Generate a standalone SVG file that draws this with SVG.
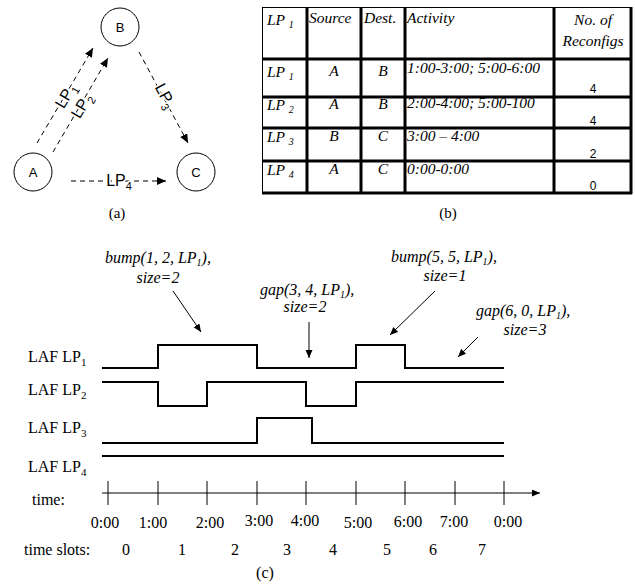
<svg xmlns="http://www.w3.org/2000/svg" width="635" height="586" viewBox="0 0 635 586">
<style>
.sans{font-family:"Liberation Sans",Arial,sans-serif;fill:#000}
.ser{font-family:"Liberation Serif","Times New Roman",serif;fill:#000}
.it{font-style:italic}
.node circle{fill:#fff;stroke:#000;stroke-width:1}
.dash{stroke:#000;stroke-width:1;stroke-dasharray:5 4;fill:none}
.sig{stroke:#000;stroke-width:2;fill:none}
.thin{stroke:#000;stroke-width:1;fill:none}
.tb{stroke:#000;stroke-width:3;fill:none}
.lbl{stroke:#fff;stroke-width:3;paint-order:stroke}
</style>
<defs>
<marker id="ah" markerUnits="userSpaceOnUse" markerWidth="10" markerHeight="8" refX="9" refY="4" orient="auto">
<path d="M0,0 L9,4 L0,8 z" fill="#000"/>
</marker>
<marker id="ah2" markerUnits="userSpaceOnUse" markerWidth="10" markerHeight="8" refX="8" refY="3.5" orient="auto">
<path d="M0,0 L8,3.5 L0,7 z" fill="#000"/>
</marker>
</defs>

<!-- (a) graph -->
<g id="connectors-a">
<line class="dash" x1="37" y1="143" x2="93" y2="48" marker-end="url(#ah)"/>
<line class="dash" x1="53" y1="152" x2="108" y2="58" marker-end="url(#ah)"/>
<line class="dash" x1="139" y1="52" x2="188" y2="143" marker-end="url(#ah)"/>
<line class="dash" x1="71" y1="181" x2="166" y2="181" marker-end="url(#ah)"/>
<text class="sans lbl" font-size="16" text-anchor="middle" transform="translate(66,96) rotate(-59.5)" y="5">LP<tspan font-size="11" dy="4">1</tspan></text>
<text class="sans lbl" font-size="16" text-anchor="middle" transform="translate(82,106) rotate(-59.5)" y="5">LP<tspan font-size="11" dy="4">2</tspan></text>
<text class="sans lbl" font-size="16" text-anchor="middle" transform="translate(165,96) rotate(61.7)" y="5">LP<tspan font-size="11" dy="4">3</tspan></text>
<text class="sans lbl" font-size="16" text-anchor="middle" x="119" y="186">LP<tspan font-size="11" dy="4">4</tspan></text>
</g>
<g id="node-B" class="node"><circle cx="120" cy="27" r="19"/><text class="sans" font-size="13" text-anchor="middle" x="120" y="32">B</text></g>
<g id="node-A" class="node"><circle cx="33" cy="172" r="19"/><text class="sans" font-size="13" text-anchor="middle" x="33" y="177">A</text></g>
<g id="node-C" class="node"><circle cx="196" cy="172" r="19"/><text class="sans" font-size="13" text-anchor="middle" x="196" y="177">C</text></g>
<text class="ser" font-size="15" text-anchor="middle" x="117" y="218">(a)</text>

<!-- (b) table -->
<g id="table">
<line class="thin" x1="262" y1="7.5" x2="632" y2="7.5"/>
<line class="thin" x1="262.5" y1="7" x2="262.5" y2="194"/>
<line class="tb" x1="307" y1="7" x2="307" y2="194"/>
<line class="tb" x1="361" y1="7" x2="361" y2="194"/>
<line class="tb" x1="405" y1="7" x2="405" y2="194"/>
<line class="tb" x1="554" y1="7" x2="554" y2="194"/>
<line class="tb" x1="631" y1="7" x2="631" y2="194"/>
<line class="tb" x1="262" y1="59" x2="632" y2="59"/>
<line class="tb" x1="262" y1="97" x2="632" y2="97"/>
<line class="tb" x1="262" y1="128" x2="632" y2="128"/>
<line class="tb" x1="262" y1="161" x2="632" y2="161"/>
<line class="tb" x1="262" y1="193" x2="632" y2="193"/>
<g class="ser it" font-size="15.5">
<text x="267" y="25">LP <tspan font-size="10" dy="3">1</tspan></text>
<text x="309" y="23">Source</text>
<text x="364" y="23">Dest.</text>
<text x="407" y="23">Activity</text>
<text x="593" y="25" text-anchor="middle">No. of</text>
<text x="593" y="46" text-anchor="middle">Reconfigs</text>
<text x="267" y="77">LP <tspan font-size="10" dy="3">1</tspan></text>
<text x="334" y="76" text-anchor="middle">A</text>
<text x="383" y="76" text-anchor="middle">B</text>
<text x="407" y="73">1:00-3:00; 5:00-6:00</text>
<text x="267" y="110">LP <tspan font-size="10" dy="3">2</tspan></text>
<text x="334" y="109" text-anchor="middle">A</text>
<text x="383" y="109" text-anchor="middle">B</text>
<text x="407" y="108">2:00-4:00; 5:00-100</text>
<text x="267" y="142">LP <tspan font-size="10" dy="3">3</tspan></text>
<text x="334" y="141" text-anchor="middle">B</text>
<text x="383" y="141" text-anchor="middle">C</text>
<text x="407" y="141">3:00 – 4:00</text>
<text x="267" y="175">LP <tspan font-size="10" dy="3">4</tspan></text>
<text x="334" y="174" text-anchor="middle">A</text>
<text x="383" y="174" text-anchor="middle">C</text>
<text x="407" y="174">0:00-0:00</text>
</g>
<g class="sans" font-size="12" text-anchor="middle">
<text x="593" y="93">4</text>
<text x="593" y="125">4</text>
<text x="593" y="158">2</text>
<text x="593" y="190">0</text>
</g>
</g>
<text class="ser" font-size="15" text-anchor="middle" x="448" y="218">(b)</text>

<!-- (c) timing -->
<g id="signals">
<polyline class="sig" points="102,368 158,368 158,345 257,345 257,368 356,368 356,345 405,345 405,368 504,368"/>
<polyline class="sig" points="102,382 158,382 158,406 207,406 207,382 306,382 306,406 356,406 356,382 504,382"/>
<polyline class="sig" points="102,443 257,443 257,418 312,418 312,443 504,443"/>
<polyline class="sig" points="102,456 504,456"/>
</g>
<g class="ser" font-size="16">
<text x="28" y="362">LAF LP<tspan font-size="11" dy="4">1</tspan></text>
<text x="28" y="395">LAF LP<tspan font-size="11" dy="4">2</tspan></text>
<text x="28" y="433">LAF LP<tspan font-size="11" dy="4">3</tspan></text>
<text x="28" y="472">LAF LP<tspan font-size="11" dy="4">4</tspan></text>
<text x="32" y="505">time:</text>
<text x="24" y="555">time slots:</text>
</g>
<g id="axis">
<line class="thin" x1="102" y1="493" x2="540" y2="493" marker-end="url(#ah2)"/>
<path class="thin" d="M108,481V505M158,481V505M207,481V505M257,481V505M306,481V505M356,481V505M405,481V505M455,481V505M504,481V505"/>
</g>
<g class="ser" font-size="16" text-anchor="middle">
<text x="105" y="528">0:00</text>
<text x="153" y="528">1:00</text>
<text x="210" y="528">2:00</text>
<text x="259" y="526">3:00</text>
<text x="305" y="526">4:00</text>
<text x="358" y="528">5:00</text>
<text x="408" y="527">6:00</text>
<text x="454" y="527">7:00</text>
<text x="508" y="527">0:00</text>
<text x="126" y="555">0</text>
<text x="182" y="555">1</text>
<text x="235" y="555">2</text>
<text x="287" y="555">3</text>
<text x="333" y="555">4</text>
<text x="387" y="555">5</text>
<text x="433" y="555">6</text>
<text x="482" y="555">7</text>
<text x="265" y="578">(c)</text>
</g>
<g id="annotations">
<line class="thin" x1="173" y1="291" x2="201" y2="332" marker-end="url(#ah2)"/>
<line class="thin" x1="309" y1="322" x2="309" y2="358" marker-end="url(#ah2)"/>
<line class="thin" x1="435" y1="291" x2="390" y2="335" marker-end="url(#ah2)"/>
<line class="thin" x1="478" y1="337" x2="458" y2="357" marker-end="url(#ah2)"/>
<g class="ser it" font-size="16">
<text x="105" y="263">bump(1, 2, LP<tspan font-size="10" dy="3">1</tspan><tspan dy="-3">),</tspan></text>
<text x="158" y="283" text-anchor="middle">size=2</text>
<text x="260" y="295">gap(3, 4, LP<tspan font-size="10" dy="3">1</tspan><tspan dy="-3">),</tspan></text>
<text x="305" y="312" text-anchor="middle">size=2</text>
<text x="391" y="262">bump(5, 5, LP<tspan font-size="10" dy="3">1</tspan><tspan dy="-3">),</tspan></text>
<text x="445" y="281" text-anchor="middle">size=1</text>
<text x="476" y="316">gap(6, 0, LP<tspan font-size="10" dy="3">1</tspan><tspan dy="-3">),</tspan></text>
<text x="525" y="335" text-anchor="middle">size=3</text>
</g>
</g>
</svg>
